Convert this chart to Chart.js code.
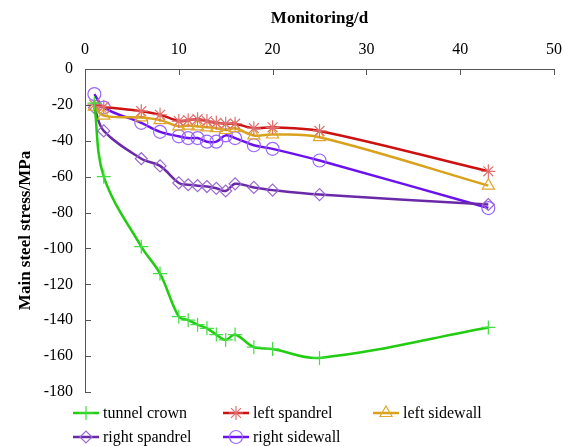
<!DOCTYPE html>
<html>
<head>
<meta charset="utf-8">
<script src="https://cdn.jsdelivr.net/npm/chart.js@4.4.0/dist/chart.umd.min.js"></script>
<style>
  html, body { margin: 0; padding: 0; background: #fff; }
  #wrap { width: 574px; height: 446px; position: relative; }
</style>
</head>
<body>
<div id="wrap"><canvas id="myChart"></canvas></div>
<script>
// monitoring days
const days = [1, 2, 6, 8, 10, 11, 12, 13, 14, 15, 16, 18, 20, 25, 43];

// main steel stress (MPa) per measuring point
const tunnelCrown   = [-19, -60, -99, -114, -138, -140, -142.5, -144.5, -148, -151, -148, -155, -156, -161, -144];
const leftSpandrel  = [-20, -21, -23.5, -25.5, -29, -28.5, -28, -29, -30, -30.5, -30.5, -33, -32.5, -34.5, -57];
const leftSidewall  = [-21, -26, -27, -28.5, -32, -31.5, -32, -32.5, -33, -34, -33, -37, -36.5, -38, -65];
const rightSpandrel = [-21.5, -34.5, -50, -54, -63.5, -64.5, -65, -65.5, -66.5, -68, -64, -66, -67.5, -70, -75.5];
const rightSidewall = [-14, -21.5, -30, -35, -37.5, -38.5, -38.5, -40.5, -40.5, -37, -38.5, -42.5, -44.5, -51, -77.5];

const seriesNames = ['tunnel crown', 'left spandrel', 'left sidewall', 'right spandrel', 'right sidewall'];
const xTicks = [0, 10, 20, 30, 40, 50];
const yTicks = [0, -20, -40, -60, -80, -100, -120, -140, -160, -180];

const serif = "'Liberation Serif', 'Times New Roman', serif";

function pts(ys) {
    return days.map((d, i) => ({ x: d, y: ys[i] }));
}

function makeSet(label, ys, line, mark, style, radius) {
    return {
        label: label,
        data: pts(ys),
        borderColor: line,
        borderWidth: 2.5,
        tension: 0.35,
        pointStyle: style,
        pointRadius: radius,
        pointBorderColor: mark,
        pointBackgroundColor: 'rgba(0,0,0,0)',
        pointBorderWidth: 1.2
    };
}

const datasets = [
    makeSet(seriesNames[0], tunnelCrown, '#22cc11', '#44dd44', 'cross', 7),
    makeSet(seriesNames[1], leftSpandrel, '#cc1111', '#e07070', 'star', 7),
    makeSet(seriesNames[2], leftSidewall, '#d9a21b', '#e0a830', 'triangle', 7),
    makeSet(seriesNames[3], rightSpandrel, '#6a2aa8', '#9a6ad0', 'rectRot', 6),
    makeSet(seriesNames[4], rightSidewall, '#6a11ee', '#9966ff', 'circle', 6.5)
];

// inward tick marks on the top and left axes
const innerTicks = {
    id: 'innerTicks',
    afterDraw(chart) {
        const ctx = chart.ctx;
        const xs = chart.scales.x, ys = chart.scales.y;
        const area = chart.chartArea;
        ctx.save();
        ctx.strokeStyle = '#555';
        ctx.lineWidth = 1;
        ctx.beginPath();
        xTicks.forEach(v => {
            const px = Math.round(xs.getPixelForValue(v)) + 0.5;
            ctx.moveTo(px, area.top);
            ctx.lineTo(px, area.top + 6);
        });
        yTicks.forEach(v => {
            const py = Math.round(ys.getPixelForValue(v)) + 0.5;
            ctx.moveTo(area.left, py);
            ctx.lineTo(area.left + 6, py);
        });
        ctx.stroke();
        ctx.restore();
    }
};

// legend laid out in three fixed columns under the plot
const gridLegend = {
    id: 'gridLegend',
    afterDraw(chart) {
        const ctx = chart.ctx;
        const colX = [73, 223, 373];
        const rowY = [413, 437];
        ctx.save();
        ctx.font = '16px ' + serif;
        ctx.textBaseline = 'middle';
        chart.data.datasets.forEach((ds, i) => {
            const x = colX[i % 3], y = rowY[Math.floor(i / 3)];
            ctx.strokeStyle = ds.borderColor;
            ctx.lineWidth = 2.5;
            ctx.beginPath();
            ctx.moveTo(x, y);
            ctx.lineTo(x + 26, y);
            ctx.stroke();
            ctx.strokeStyle = ds.pointBorderColor;
            ctx.fillStyle = 'rgba(0,0,0,0)';
            ctx.lineWidth = 1.2;
            Chart.helpers.drawPoint(ctx, {
                pointStyle: ds.pointStyle,
                radius: ds.pointRadius,
                borderWidth: 1.2,
                rotation: 0
            }, x + 13, y);
            ctx.fillStyle = '#000';
            ctx.fillText(ds.label, x + 30, y + 1);
        });
        ctx.restore();
    }
};

const ctx = document.getElementById('myChart').getContext('2d');
new Chart(ctx, {
    type: 'line',
    data: { datasets: datasets },
    options: {
        responsive: true,
        maintainAspectRatio: false,
        animation: false,
        layout: { padding: { left: 0, right: 20, top: 0, bottom: 54 } },
        plugins: {
            legend: { display: false },
            tooltip: { enabled: false }
        },
        scales: {
            x: {
                type: 'linear',
                position: 'top',
                min: 0,
                max: 50,
                afterFit: s => { s.height = 69; },
                afterBuildTicks: s => { s.ticks = xTicks.map(v => ({ value: v })); },
                grid: { display: false, drawTicks: false },
                border: { display: true, color: '#555', width: 1 },
                ticks: { padding: 10, color: '#000', font: { family: serif, size: 16 } },
                title: {
                    display: true,
                    text: 'Monitoring/d',
                    color: '#000',
                    font: { family: serif, size: 17, weight: 'bold' },
                    padding: { top: 8, bottom: 0 }
                }
            },
            y: {
                min: -180,
                max: 0,
                afterFit: s => { s.width = 85; },
                afterBuildTicks: s => { s.ticks = yTicks.map(v => ({ value: v })); },
                grid: { display: false, drawTicks: false },
                border: { display: true, color: '#555', width: 1 },
                ticks: { padding: 12, color: '#000', font: { family: serif, size: 16 } },
                title: {
                    display: true,
                    text: 'Main steel stress/MPa',
                    color: '#000',
                    font: { family: serif, size: 17, weight: 'bold' },
                    padding: { top: 15, bottom: 0 }
                }
            }
        }
    },
    plugins: [innerTicks, gridLegend]
});
</script>
</body>
</html>
